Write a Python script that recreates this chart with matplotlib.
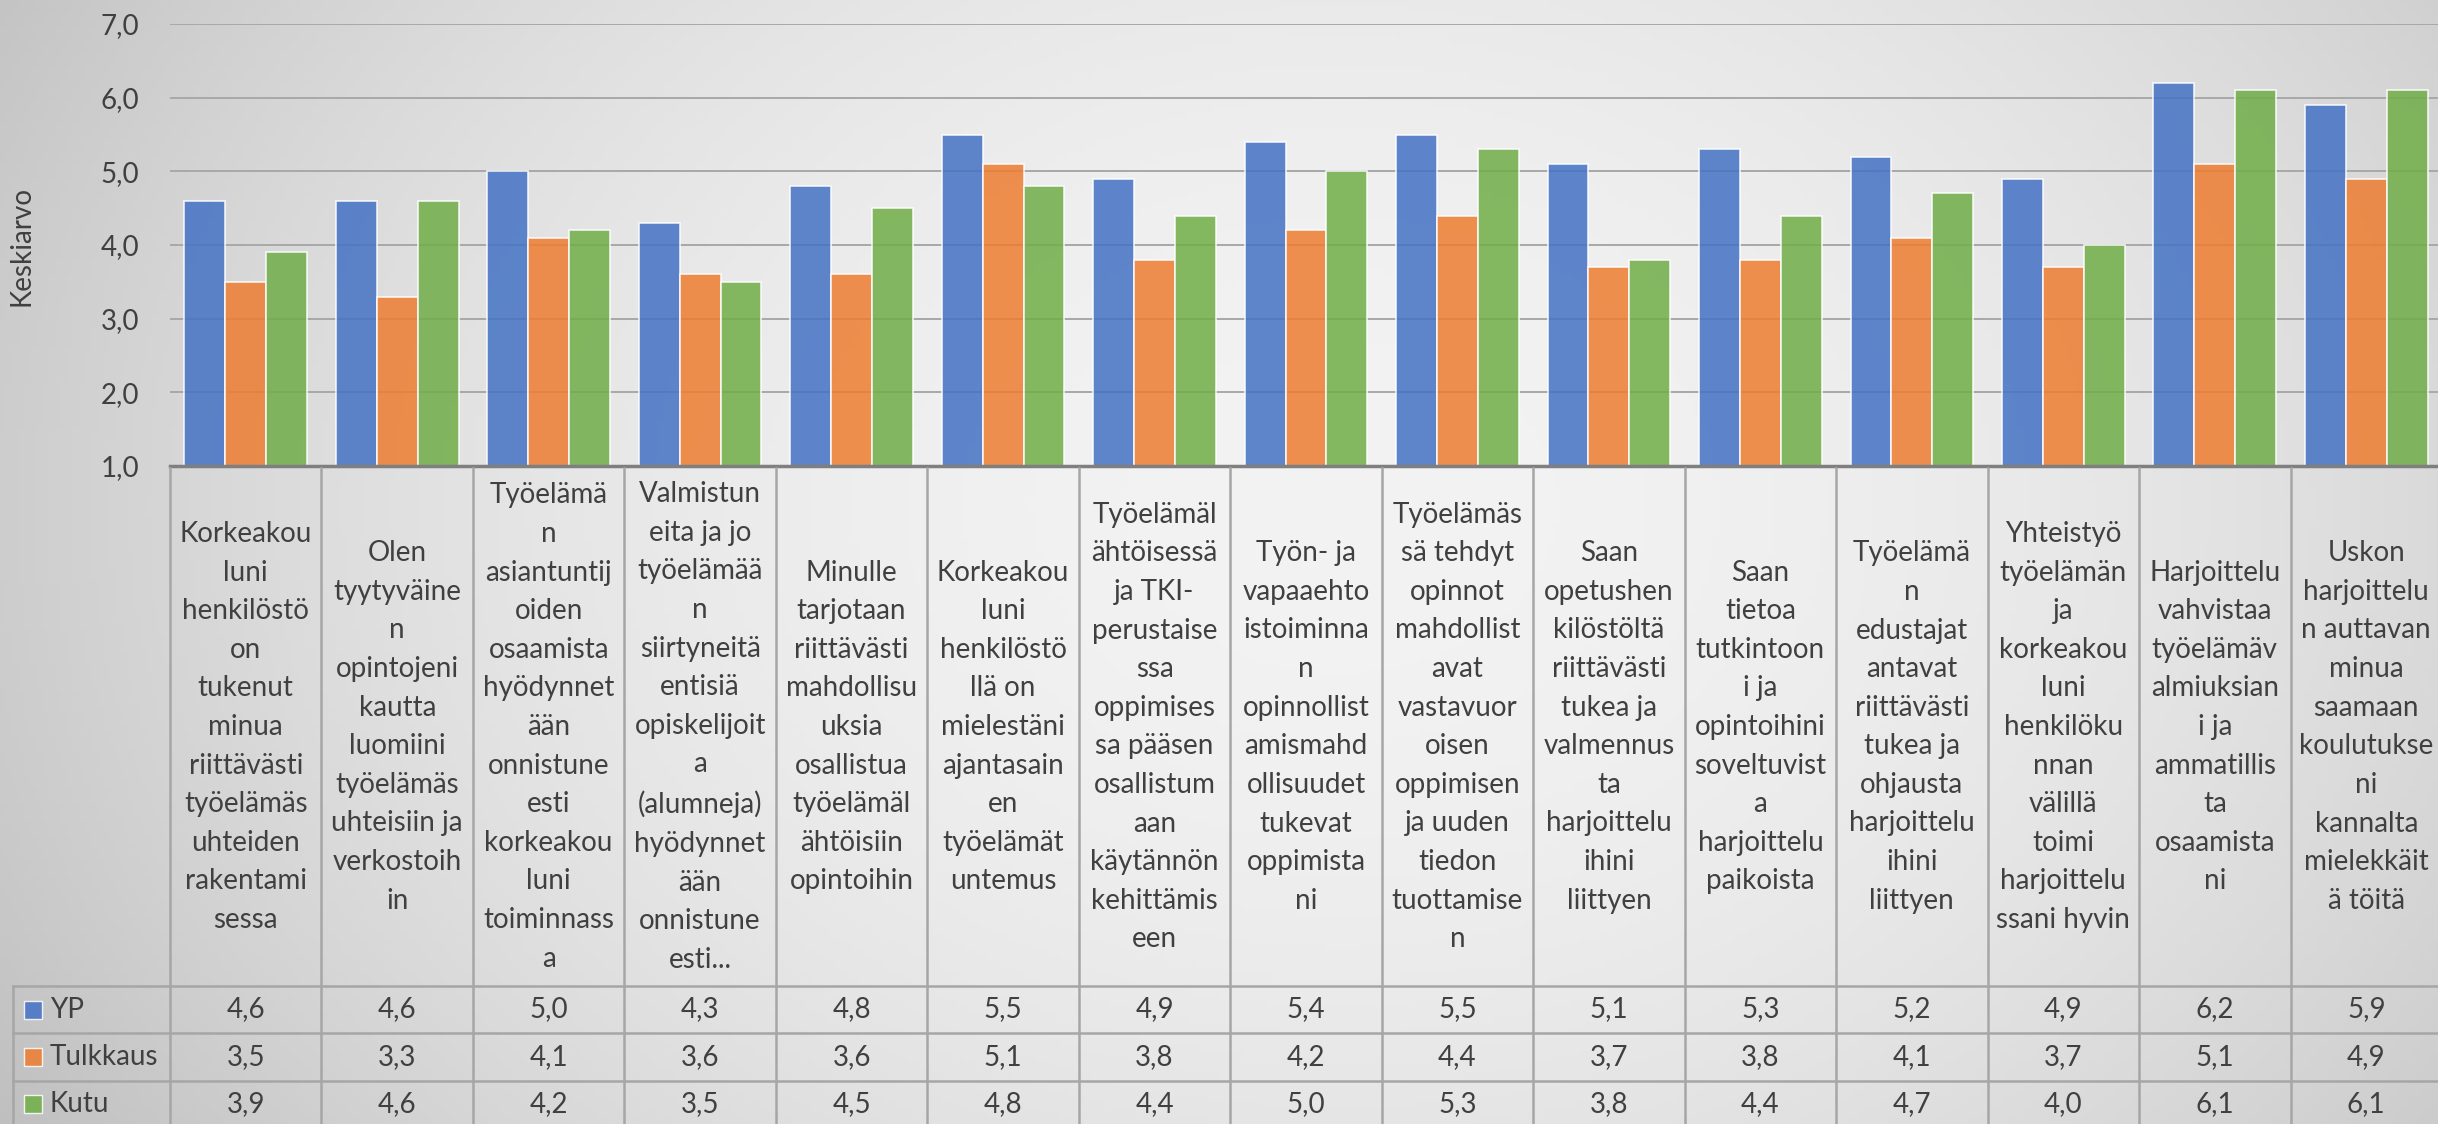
import numpy as np
import matplotlib.pyplot as plt
from matplotlib.lines import Line2D
from matplotlib.patches import Rectangle
from matplotlib.transforms import blended_transform_factory

plt.rcParams['font.family'] = ['Lato', 'DejaVu Sans']

# Kysymykset (rivitys kuten alkuperaisessa taulukossa)
kategoriat = [
    "Korkeakou\nluni\nhenkilöstö\non\ntukenut\nminua\nriittävästi\ntyöelämäs\nuhteiden\nrakentami\nsessa",
    "Olen\ntyytyväine\nn\nopintojeni\nkautta\nluomiini\ntyöelämäs\nuhteisiin ja\nverkostoih\nin",
    "Työelämä\nn\nasiantuntij\noiden\nosaamista\nhyödynnet\nään\nonnistune\nesti\nkorkeakou\nluni\ntoiminnass\na",
    "Valmistun\neita ja jo\ntyöelämää\nn\nsiirtyneitä\nentisiä\nopiskelijoit\na\n(alumneja)\nhyödynnet\nään\nonnistune\nesti...",
    "Minulle\ntarjotaan\nriittävästi\nmahdollisu\nuksia\nosallistua\ntyöelämäl\nähtöisiin\nopintoihin",
    "Korkeakou\nluni\nhenkilöstö\nllä on\nmielestäni\najantasain\nen\ntyöelämät\nuntemus",
    "Työelämäl\nähtöisessä\nja TKI-\nperustaise\nssa\noppimises\nsa pääsen\nosallistum\naan\nkäytännön\nkehittämis\neen",
    "Työn- ja\nvapaaehto\nistoiminna\nn\nopinnollist\namismahd\nollisuudet\ntukevat\noppimista\nni",
    "Työelämäs\nsä tehdyt\nopinnot\nmahdollist\navat\nvastavuor\noisen\noppimisen\nja uuden\ntiedon\ntuottamise\nn",
    "Saan\nopetushen\nkilöstöltä\nriittävästi\ntukea ja\nvalmennus\nta\nharjoittelu\nihini\nliittyen",
    "Saan\ntietoa\ntutkintoon\ni ja\nopintoihini\nsoveltuvist\na\nharjoittelu\npaikoista",
    "Työelämä\nn\nedustajat\nantavat\nriittävästi\ntukea ja\nohjausta\nharjoittelu\nihini\nliittyen",
    "Yhteistyö\ntyöelämän\nja\nkorkeakou\nluni\nhenkilöku\nnnan\nvälillä\ntoimi\nharjoittelu\nssani hyvin",
    "Harjoittelu\nvahvistaa\ntyöelämäv\nalmiuksian\ni ja\nammatillis\nta\nosaamista\nni",
    "Uskon\nharjoittelu\nn auttavan\nminua\nsaamaan\nkoulutukse\nni\nkannalta\nmielekkäit\nä töitä",
]

sarjat = ['YP', 'Tulkkaus', 'Kutu']
yp = [4.6, 4.6, 5.0, 4.3, 4.8, 5.5, 4.9, 5.4, 5.5, 5.1, 5.3, 5.2, 4.9, 6.2, 5.9]
tulkkaus = [3.5, 3.3, 4.1, 3.6, 3.6, 5.1, 3.8, 4.2, 4.4, 3.7, 3.8, 4.1, 3.7, 5.1, 4.9]
kutu = [3.9, 4.6, 4.2, 3.5, 4.5, 4.8, 4.4, 5.0, 5.3, 3.8, 4.4, 4.7, 4.0, 6.1, 6.1]
yticks = [1, 2, 3, 4, 5, 6, 7]

varit = ['#4472C4', '#ED7D31', '#70AD47']
teksti = '#404040'
viiva = '#a6a6a6'
fs = 20

W, H = 2438, 1124
fig = plt.figure(figsize=(W / 100, H / 100), dpi=100)

# taustan liukuvari
bg = fig.add_axes([0, 0, 1, 1], zorder=-10)
U, V = np.meshgrid(np.linspace(0, 1, 400), np.linspace(0, 1, 200))
d2 = ((U - 0.55) / 0.6) ** 2 + ((V - 0.45) / 1.0) ** 2
val = np.clip(243 - 45 * d2, 150, 255) / 255
bg.imshow(np.dstack([val] * 3), aspect='auto', extent=[0, 1, 0, 1])
bg.axis('off')

def fy(py):
    return 1 - py / H

ax = fig.add_axes([170 / W, fy(466), 2272 / W, (466 - 24) / H])
ax.set_facecolor('none')
x = np.arange(len(kategoriat))
w = 0.27
for i, (arvot, vari) in enumerate(zip([yp, tulkkaus, kutu], varit)):
    ax.bar(x + (i - 1) * w, arvot, width=w, color=vari, alpha=0.85,
           edgecolor='white', linewidth=1.2, zorder=3)

ax.set_xlim(-0.5, len(kategoriat) - 0.5)
ax.set_ylim(1, 7)
ax.set_yticks(yticks)
ax.set_yticklabels([f"{t:.1f}".replace('.', ',') for t in yticks])
ax.grid(axis='y', color='#a8a8a8', lw=1.4, zorder=0)
ax.set_axisbelow(True)
for s in ['top', 'right', 'left']:
    ax.spines[s].set_visible(False)
ax.spines['bottom'].set_color('#7f7f7f')
ax.spines['bottom'].set_linewidth(2.5)
ax.spines['bottom'].set_zorder(5)
ax.tick_params(axis='y', length=0, pad=22, labelsize=fs, labelcolor=teksti)
ax.tick_params(axis='x', length=0, labelbottom=False)

fig.text(22 / W, fy(246), 'Keskiarvo', rotation=90, ha='center', va='center',
         fontsize=fs, color=teksti)

# datataulukko
tr = blended_transform_factory(ax.transData, fig.transFigure)
for b in np.arange(-0.5, len(kategoriat), 1):
    fig.add_artist(Line2D([b, b], [fy(468), fy(H)], transform=tr, color=viiva, lw=1.8))
rivit = [986, 1033, 1081]
for py in rivit:
    fig.add_artist(Line2D([13 / W, 1], [fy(py), fy(py)], transform=fig.transFigure,
                          color=viiva, lw=1.8))
fig.add_artist(Line2D([13 / W, 13 / W], [fy(986), fy(H)], transform=fig.transFigure,
                      color=viiva, lw=1.8))

for i, k in enumerate(kategoriat):
    fig.text(i, fy(727), k, transform=tr, ha='center', va='center', fontsize=fs,
             color=teksti, linespacing=1.6)

keskit = [1009.5, 1057, 1104]
for j, (nimi, arvot, vari) in enumerate(zip(sarjat, [yp, tulkkaus, kutu], varit)):
    yc = keskit[j]
    fig.add_artist(Rectangle((24 / W, fy(yc + 9)), 18 / W, 18 / H, transform=fig.transFigure,
                             facecolor=vari, alpha=0.85, edgecolor='white', lw=1))
    fig.text(50 / W, fy(yc), nimi, ha='left', va='center', fontsize=fs, color=teksti)
    for i, a in enumerate(arvot):
        fig.text(i, fy(yc), f"{a:.1f}".replace('.', ','), transform=tr, ha='center',
                 va='center', fontsize=fs, color=teksti)

fig.savefig('out.png', dpi=100)
